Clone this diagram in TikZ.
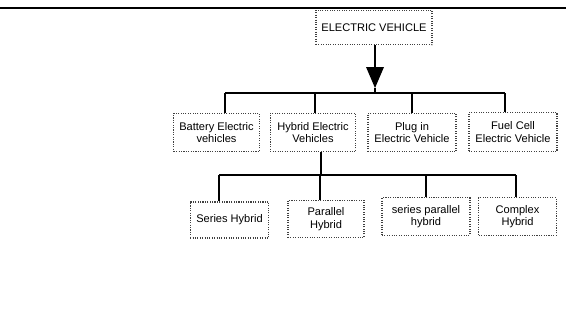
\documentclass[tikz,border=0pt]{standalone}
\usepackage{fontspec}
\setmainfont{Liberation Sans}

\tikzset{every picture/.style={line width=0.75pt}}
\tikzset{
  evbox/.style={draw=black!75, densely dotted, line width=0.8pt, align=center, inner sep=1pt, font=\fontsize{8.3}{9.5}\selectfont},
  wire/.style={line width=1.3pt, black}
}

\begin{document}
\begin{tikzpicture}[x=0.75pt,y=0.75pt,yscale=-1,xscale=1]
\useasboundingbox (0,0) rectangle (566,330);

%Straight Lines [id:top] 
\draw [line width=1.2pt] (0,8) -- (566,8) ;

%Shape: Rectangle [id:ev] 
\node [evbox, minimum width=87, minimum height=26] (ev) at (374,27.5) {ELECTRIC VEHICLE};
%Shape: Triangle [id:tri] 
\coordinate (triTop) at (375,67);
\coordinate (triTip) at (375,88);
\fill (366,67) -- (384,67) -- (triTip) -- cycle ;
\draw [wire] (ev.south -| triTop) -- (triTop) ;

%Straight Lines [id:bus1] 
\coordinate (a1) at (225,93);
\coordinate (a2) at (315,93);
\coordinate (a3) at (412,93);
\coordinate (a4) at (505,93);
\draw [wire] (a1) -- (a4) ;
\draw [wire] (triTip) -- (triTip |- a1) ;

% Text Node
\node [evbox, minimum width=64, minimum height=29] (bev) at (216.5,132.5) {Battery Electric\\vehicles};
\node [evbox, minimum width=64, minimum height=29] (hev) at (313,132.5) {Hybrid Electric\\Vehicles};
\node [evbox, minimum width=66, minimum height=29] (pev) at (412,132.5) {Plug in\\Electric Vehicle};
\node [evbox, minimum width=66, minimum height=29] (fcev) at (513,132) {Fuel Cell\\Electric Vehicle};

\draw [wire] (a1) -- (a1 |- bev.north) ;
\draw [wire] (a2) -- (a2 |- hev.north) ;
\draw [wire] (a3) -- (a3 |- pev.north) ;
\draw [wire] (a4) -- (a4 |- fcev.north) ;

%Straight Lines [id:bus2] 
\coordinate (h0) at (321,175);
\coordinate (c1) at (219,175);
\coordinate (c2) at (320,175);
\coordinate (c3) at (426,175);
\coordinate (c4) at (516,175);
\draw [wire] (c1) -- (c4) ;
\draw [wire] (h0 |- hev.south) -- (h0) ;

% Text Node
\node [evbox, minimum width=59, minimum height=27] (shev) at (229.5,220) {Series Hybrid};
\node [evbox, minimum width=57, minimum height=28] (phev) at (326,219) {Parallel\\Hybrid};
\node [evbox, minimum width=66, minimum height=28] (sphev) at (426,216.5) {series parallel\\hybrid};
\node [evbox, minimum width=58, minimum height=28] (chev) at (517.5,216.5) {Complex\\Hybrid};

\draw [wire] (c1) -- (c1 |- shev.north) ;
\draw [wire] (c2) -- (c2 |- phev.north) ;
\draw [wire] (c3) -- (c3 |- sphev.north) ;
\draw [wire] (c4) -- (c4 |- chev.north) ;
\end{tikzpicture}
\end{document}
